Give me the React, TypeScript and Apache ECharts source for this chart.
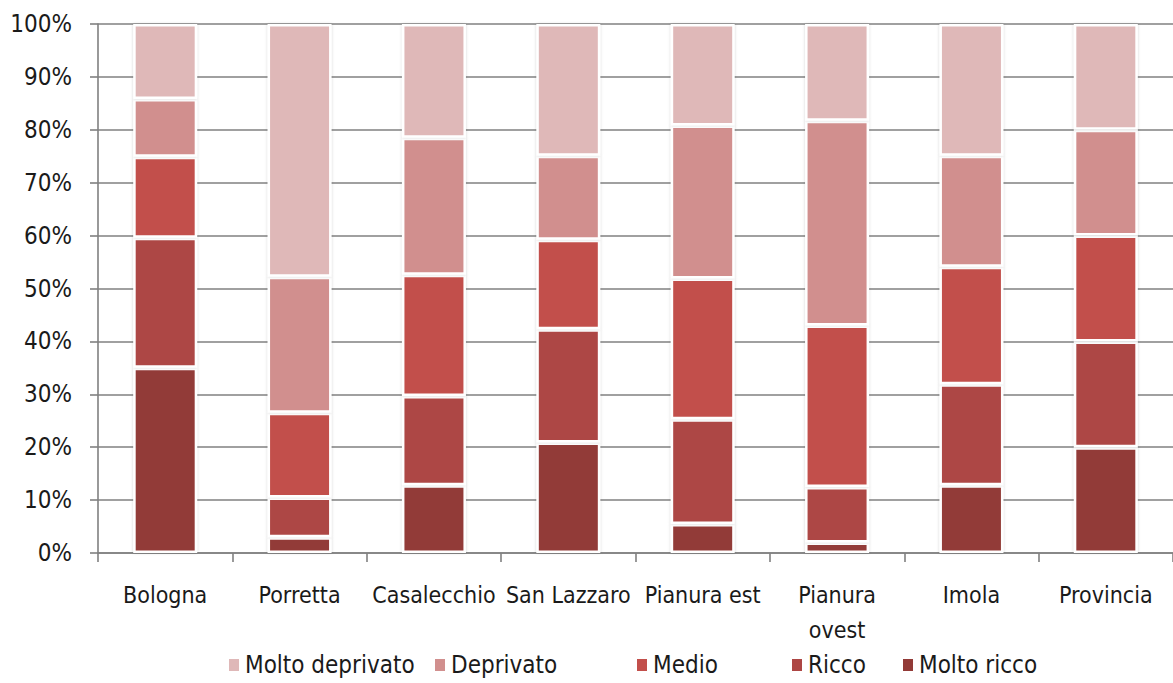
import React, { useEffect, useRef } from "react";
import * as echarts from "echarts";

const categories = ["Bologna", "Porretta", "Casalecchio", "San Lazzaro", "Pianura est", "Pianura\novest", "Imola", "Provincia"];
const moltoRicco = [35.0, 3.0, 12.8, 20.9, 5.5, 2.0, 12.8, 20.0];
const ricco = [24.6, 7.5, 16.9, 21.4, 19.8, 10.5, 19.1, 20.0];
const medio = [15.3, 16.0, 22.9, 16.9, 26.6, 30.5, 22.2, 20.0];
const deprivato = [10.9, 25.7, 25.9, 15.9, 28.9, 38.7, 21.0, 20.0];
const moltoDeprivato = [14.2, 47.8, 21.5, 24.9, 19.2, 18.3, 24.9, 20.0];
const yTicks = [0, 10, 20, 30, 40, 50, 60, 70, 80, 90, 100];

const FONT = "'Liberation Sans Narrow', 'DejaVu Sans Condensed', 'Roboto Condensed', sans-serif";

const seriesDefs = [
  { name: "Molto ricco", data: moltoRicco, color: "#923a37" },
  { name: "Ricco", data: ricco, color: "#ad4644" },
  { name: "Medio", data: medio, color: "#c24f4b" },
  { name: "Deprivato", data: deprivato, color: "#d18f8e" },
  { name: "Molto deprivato", data: moltoDeprivato, color: "#dfb8b8" },
];

const legendPos = [
  { name: "Molto deprivato", left: 222 },
  { name: "Deprivato", left: 428 },
  { name: "Medio", left: 630 },
  { name: "Ricco", left: 785 },
  { name: "Molto ricco", left: 896 },
];

export default function App() {
  const ref = useRef<HTMLDivElement>(null);
  useEffect(() => {
    document.body.style.margin = "0";
    if (!ref.current) return;
    const chart = echarts.init(ref.current, null, { renderer: "svg" });
    chart.setOption({
      animation: false,
      backgroundColor: "#ffffff",
      grid: { left: 98, top: 24, bottom: 130, right: -19, containLabel: false },
      legend: legendPos.map((l) => ({
        data: [l.name],
        left: l.left,
        top: 648,
        itemWidth: 12,
        itemHeight: 14,
        itemGap: 6,
        icon: "rect",
        textStyle: { fontFamily: FONT, fontSize: 24, color: "#1a1a1a" },
        selectedMode: false,
      })),
      xAxis: {
        type: "category",
        data: categories,
        axisLine: { show: true, lineStyle: { color: "#808080", width: 1.6 } },
        axisTick: { show: true, length: 9, lineStyle: { color: "#808080", width: 1.6 } },
        axisLabel: {
          interval: 0,
          margin: 24,
          fontFamily: FONT,
          fontSize: 23,
          lineHeight: 35,
          color: "#1a1a1a",
        },
      },
      yAxis: {
        type: "value",
        min: 0,
        max: 100,
        interval: 10,
        axisLine: { show: true, lineStyle: { color: "#808080", width: 1.6 } },
        axisTick: { show: true, length: 8, lineStyle: { color: "#808080", width: 1.6 } },
        splitLine: { show: true, lineStyle: { color: "#808080", width: 1.6 } },
        axisLabel: {
          margin: 26,
          fontFamily: FONT,
          fontSize: 24,
          color: "#1a1a1a",
          formatter: (v: number) => (yTicks.includes(v) ? v + "%" : ""),
        },
      },
      series: seriesDefs.map((s) => ({
        name: s.name,
        type: "bar",
        stack: "total",
        data: s.data,
        barWidth: 64,
        itemStyle: {
          color: s.color,
          borderColor: "#ffffff",
          borderWidth: 2.5,
          shadowColor: "rgba(0,0,0,0.18)",
          shadowBlur: 3,
        },
      })),
    });
    return () => chart.dispose();
  }, []);
  return <div ref={ref} style={{ width: 1173, height: 683 }} />;
}
